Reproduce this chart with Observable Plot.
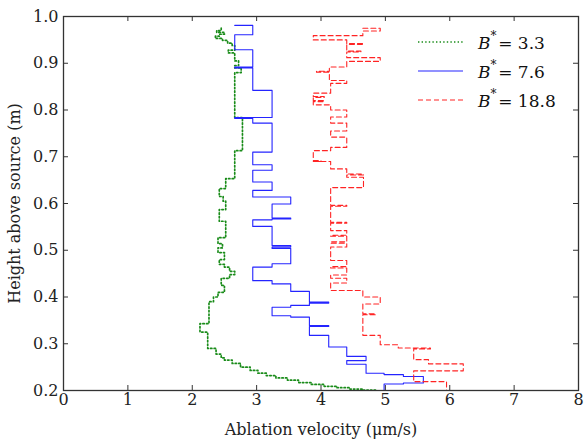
<!DOCTYPE html>
<html><head><meta charset="utf-8">
<script src="https://cdn.jsdelivr.net/npm/d3@7"></script>
<script src="https://cdn.jsdelivr.net/npm/@observablehq/plot@0.6"></script>
<style>
body{margin:0;background:#fff;}
#wrap{position:relative;width:585px;height:441px;}
.legend{position:absolute;left:418px;top:27px;font-family:"DejaVu Serif",serif;font-size:17px;color:#111;}
.row{display:flex;align-items:center;height:29px;}
.row svg{margin-right:15px;}
.row i{font-style:italic;}
.row sup{font-size:12px;position:relative;top:-2px;}
</style></head><body><div id="wrap"></div>
<script>
// ---- data ----
const xTicks = [0,1,2,3,4,5,6,7,8];
const yTicks = [0.2,0.3,0.4,0.5,0.6,0.7,0.8,0.9,1.0];
const seriesNames = ["B* = 3.3","B* = 7.6","B* = 18.8"];

// B* = 3.3 : heights (bin tops, descending) and velocity below each height
const greenH = [0.975,0.970,0.966,0.962,0.958,0.953,0.949,0.943,0.938,0.928,0.922,0.905,0.895,0.890,0.880,0.784,0.713,0.653,0.632,0.615,0.605,0.587,0.562,0.527,0.514,0.505,0.495,0.480,0.470,0.464,0.455,0.448,0.440,0.425,0.410,0.400,0.390,0.343,0.325,0.290,0.278,0.270,0.265,0.258,0.250,0.243,0.237,0.232,0.227,0.222,0.217,0.213,0.209,0.206,0.203,0.201,0.200];
const greenV = [2.45,2.38,2.50,2.42,2.36,2.47,2.55,2.62,2.66,2.56,2.66,2.72,2.66,2.76,2.66,2.78,2.66,2.52,2.42,2.48,2.52,2.42,2.52,2.40,2.47,2.40,2.50,2.42,2.50,2.58,2.66,2.58,2.45,2.50,2.40,2.33,2.26,2.12,2.24,2.37,2.45,2.50,2.62,2.75,2.90,3.02,3.15,3.30,3.48,3.65,3.85,4.05,4.25,4.45,4.65,4.85,4.85];

// B* = 7.6
const blueH = [0.981,0.981,0.961,0.929,0.892,0.890,0.842,0.784,0.782,0.772,0.710,0.683,0.671,0.646,0.628,0.614,0.599,0.569,0.567,0.565,0.551,0.510,0.507,0.504,0.471,0.464,0.435,0.428,0.412,0.389,0.387,0.382,0.378,0.360,0.357,0.339,0.337,0.318,0.293,0.273,0.264,0.256,0.237,0.234,0.230,0.216,0.214,0.200,0.200];
const blueV = [2.66,2.94,2.66,2.94,2.66,2.94,3.24,2.66,2.94,3.24,2.94,3.24,2.94,3.24,2.94,3.53,3.24,3.53,3.24,2.94,3.24,3.53,3.24,3.53,3.24,2.94,3.24,3.53,3.82,4.12,3.82,3.53,3.24,3.53,3.82,4.12,3.82,4.12,4.40,4.70,4.40,4.70,4.98,5.28,5.59,5.28,4.98,4.98,5.28];

// B* = 18.8
const redH = [0.975,0.975,0.969,0.959,0.950,0.942,0.940,0.926,0.924,0.912,0.904,0.892,0.883,0.881,0.863,0.857,0.836,0.829,0.827,0.820,0.818,0.811,0.800,0.785,0.772,0.755,0.742,0.720,0.713,0.692,0.690,0.690,0.674,0.663,0.661,0.656,0.634,0.596,0.594,0.560,0.558,0.542,0.532,0.530,0.518,0.515,0.507,0.478,0.465,0.462,0.447,0.440,0.430,0.414,0.400,0.385,0.364,0.362,0.318,0.298,0.291,0.289,0.266,0.257,0.242,0.219,0.200];
const redV = [4.65,4.92,4.65,3.88,4.40,4.66,4.40,4.62,4.40,4.92,4.40,4.13,3.93,4.13,4.40,4.15,3.88,4.05,3.88,4.05,3.88,4.15,4.40,4.15,4.40,4.15,4.40,4.15,3.88,4.00,3.88,4.15,4.40,4.66,4.40,4.66,4.15,4.40,4.15,4.40,4.15,4.40,4.15,4.40,4.15,4.40,4.15,4.40,4.15,4.40,4.15,4.40,4.15,4.65,4.92,4.65,4.85,4.65,4.92,5.20,5.70,5.44,5.67,6.21,5.44,5.95,5.95];

const toRows = (H, V) => H.map((h, i) => ({h, v: V[i]}));
const green = toRows(greenH, greenV);
const blue = toRows(blueH, blueV);
const red = toRows(redH, redV);

const colors = ["#1a8c1a", "#2424ff", "#ff2424"];
const dashes = ["1.4,2.2", null, "5,3"];

const W = 585, Hh = 441, mL = 63, mR = 7, mT = 16, mB = 51;
const fw = W - mL - mR, fh = Hh - mT - mB;

const plot = Plot.plot({
  width: W, height: Hh,
  marginLeft: mL, marginRight: mR, marginTop: mT, marginBottom: mB,
  style: {fontFamily: "DejaVu Serif, serif", fontSize: "16px", background: "#fff", color: "#222"},
  x: {domain: [0, 8]},
  y: {domain: [0.2, 1.0]},
  marks: [
    Plot.line(green, {x: "v", y: "h", curve: "step-before", stroke: colors[0], strokeWidth: 1.7, strokeDasharray: dashes[0]}),
    Plot.line(blue, {x: "v", y: "h", curve: "step-before", stroke: colors[1], strokeWidth: 1.1}),
    Plot.line(red, {x: "v", y: "h", curve: "step-before", stroke: colors[2], strokeWidth: 1.1, strokeDasharray: dashes[2]}),
    // inward ticks on all four sides
    Plot.tickX(xTicks, {x: d => d, insetTop: fh - 5, stroke: "#333"}),
    Plot.tickX(xTicks, {x: d => d, insetBottom: fh - 5, stroke: "#333"}),
    Plot.tickY(yTicks, {y: d => d, insetRight: fw - 5, stroke: "#333"}),
    Plot.tickY(yTicks, {y: d => d, insetLeft: fw - 5, stroke: "#333"}),
    Plot.frame({stroke: "#333", strokeWidth: 1.3}),
    Plot.axisX({anchor: "bottom", ticks: xTicks, tickSize: 0, tickPadding: 3, tickFormat: d => String(d), fontSize: 16,
      label: "Ablation velocity (μm/s)", labelAnchor: "center", labelOffset: 44, labelArrow: "none"}),
    Plot.axisY({anchor: "left", ticks: yTicks, tickSize: 0, tickPadding: 5, tickFormat: d3.format(".1f"), fontSize: 16,
      label: "Height above source (m)", labelAnchor: "center", labelOffset: 55, labelArrow: "none"})
  ]
});
const wrap = document.getElementById("wrap");
wrap.appendChild(plot);

// legend
const leg = document.createElement("div");
leg.className = "legend";
seriesNames.forEach((name, i) => {
  const row = document.createElement("div");
  row.className = "row";
  const ns = "http://www.w3.org/2000/svg";
  const s = document.createElementNS(ns, "svg");
  s.setAttribute("width", 45); s.setAttribute("height", 10);
  const ln = document.createElementNS(ns, "line");
  ln.setAttribute("x1", 0); ln.setAttribute("x2", 45); ln.setAttribute("y1", 5); ln.setAttribute("y2", 5);
  ln.setAttribute("stroke", colors[i]);
  ln.setAttribute("stroke-width", i === 0 ? 1.7 : 1.2);
  if (dashes[i]) ln.setAttribute("stroke-dasharray", dashes[i]);
  s.appendChild(ln);
  row.appendChild(s);
  const t = document.createElement("span");
  const val = name.split("= ")[1];
  t.innerHTML = "<i>B</i><sup>*</sup>&#8202;= " + val;
  row.appendChild(t);
  leg.appendChild(row);
});
wrap.appendChild(leg);
</script>
</body></html>
